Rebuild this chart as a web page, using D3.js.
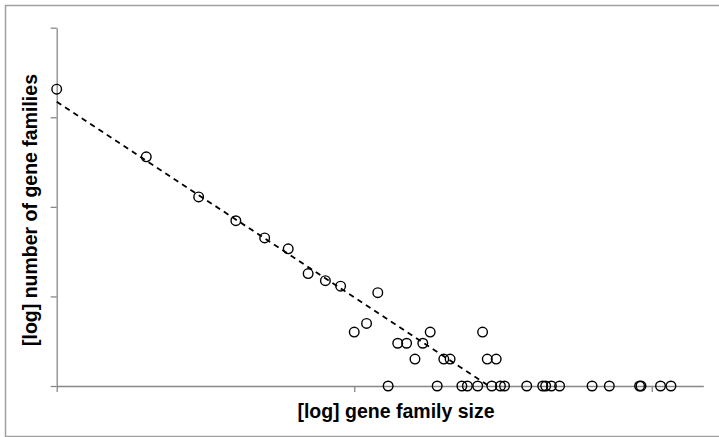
<!DOCTYPE html>
<html>
<head>
<meta charset="utf-8">
<script src="https://cdn.jsdelivr.net/npm/d3@7"></script>
<style>
  body { margin: 0; background: #fff; }
  svg { display: block; font-family: "Liberation Sans", Arial, sans-serif; }
</style>
</head>
<body>
<svg id="chart" width="719" height="437"></svg>
<script>
// gene family size (x) and number of families of that size (y)
let sizes  = [1, 2, 3, 4, 5, 6, 7, 8, 9, 10, 11, 12, 13, 14, 15, 16, 17, 18, 19, 20, 21,
              23, 24, 26, 27, 28, 29, 30, 31, 32, 38, 43, 44, 46, 49, 63, 72, 91, 92, 107, 116]
let counts = [2060, 362, 129, 70, 45, 34, 18, 15, 13, 4, 5, 11, 1, 3, 3, 2, 3, 4, 1, 2, 2,
              1, 1, 1, 4, 2, 1, 2, 1, 1, 1, 1, 1, 1, 1, 1, 1, 1, 1, 1, 1]

// power trendline, endpoints as drawn
let trendSizes  = [1, 28.4]
let trendCounts = [1490, 1]

let xTicks = [1, 10, 100]
let yTicks = [1, 10, 100, 1000, 10000]

let svg = d3.select('#chart')

// outer frame
svg.append('rect')
  .attr('x', 5.5).attr('y', 5.5)
  .attr('width', 730).attr('height', 431)
  .attr('fill', 'none')
  .attr('stroke', '#a0a0a0')
  .attr('stroke-width', 1.5)

let x = d3.scaleLog().domain([1, 149]).range([56.7, 703.3])
let y = d3.scaleLog().domain([1, 10000]).range([386, 27.7])

let xAxis = svg.append('g')
  .attr('transform', 'translate(0,386)')
  .call(d3.axisBottom(x).tickValues(xTicks).tickFormat('').tickSize(6).tickSizeOuter(0))

let yAxis = svg.append('g')
  .attr('transform', 'translate(56.7,0)')
  .call(d3.axisLeft(y).tickValues(yTicks).tickFormat('').tickSize(6).tickSizeOuter(0))

svg.selectAll('.domain, .tick line')
  .attr('stroke', '#888')
  .attr('stroke-width', 1.3)

// dashed trendline
let pts = trendSizes.map(function(s, i){ return [s, trendCounts[i]] })
svg.append('path')
  .datum(pts)
  .attr('d', d3.line().x(function(d){ return x(d[0]) }).y(function(d){ return y(d[1]) }))
  .attr('fill', 'none')
  .attr('stroke', '#000')
  .attr('stroke-width', 1.8)
  .attr('stroke-dasharray', '5.5,4.5')

// markers
svg.selectAll('.pt')
  .data(sizes)
  .enter()
  .append('circle')
  .attr('class', 'pt')
  .attr('cx', function(d){ return x(d) })
  .attr('cy', function(d, i){ return y(counts[i]) })
  .attr('r', 4.8)
  .attr('fill', 'none')
  .attr('stroke', '#000')
  .attr('stroke-width', 1.4)

// axis titles
svg.append('text')
  .attr('x', 396).attr('y', 418)
  .attr('text-anchor', 'middle')
  .style('font-size', '19.5px')
  .style('font-weight', 'bold')
  .text('[log] gene family size')

svg.append('text')
  .attr('transform', 'translate(37,210) rotate(-90)')
  .attr('text-anchor', 'middle')
  .style('font-size', '19.5px')
  .style('font-weight', 'bold')
  .text('[log] number of gene families')
</script>
</body>
</html>
